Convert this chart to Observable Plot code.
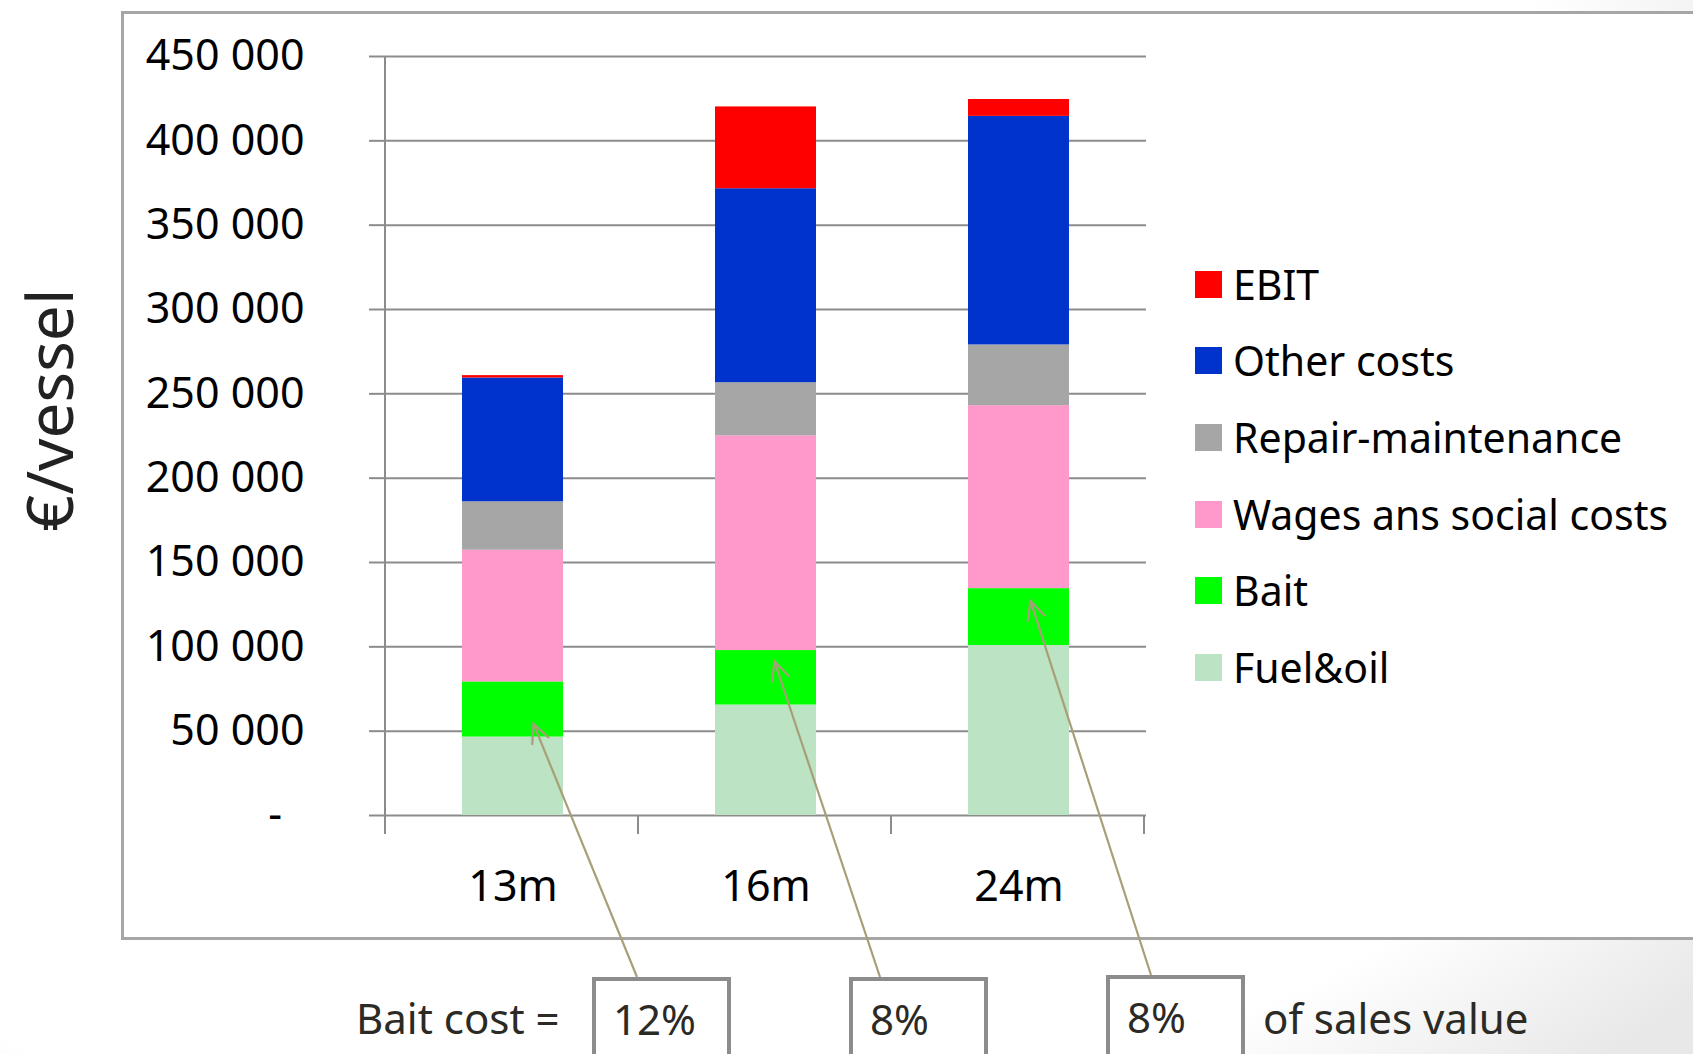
<!DOCTYPE html>
<html><head><meta charset="utf-8">
<script src="https://cdn.jsdelivr.net/npm/d3@7"></script>
<script src="https://cdn.jsdelivr.net/npm/@observablehq/plot@0.6"></script>
<style>
html,body{margin:0;padding:0;}
body{width:1693px;height:1054px;overflow:hidden;font-family:"Noto Sans",sans-serif;}
#page{position:relative;width:1693px;height:1054px;overflow:hidden;
  background:radial-gradient(ellipse 85% 85% at 35% 40%, #ffffff 80%, #e8e8e8 100%);}
#frame{position:absolute;left:121px;top:11px;width:1700px;height:923px;border:3px solid #a6a6a6;background:#fff;}
#chart{position:absolute;left:0;top:0;}
#ytitle{position:absolute;left:49px;top:410px;transform:translate(-50%,-50%) rotate(-90deg);
  font-size:64px;color:#222;white-space:nowrap;line-height:1;}
#legend{position:absolute;left:1195px;top:246px;}
.lrow{position:relative;height:76.6px;display:flex;align-items:center;white-space:nowrap;}
.lsw{width:27px;height:27px;margin-right:11px;flex:none;}
.ltx{font-size:41px;color:#000;line-height:1;}
.note{position:absolute;font-size:42px;color:#2b2a25;white-space:nowrap;line-height:1;transform:translateY(-50%);}
.box{position:absolute;width:131px;height:90px;border:4px solid #8c8c8c;background:#fff;box-sizing:content-box;}
.box span{position:absolute;left:17px;top:38px;font-size:42px;color:#2b2a25;line-height:1;transform:translateY(-50%);}
#arrows{position:absolute;left:0;top:0;}
</style></head><body>
<div id="page">
  <div id="frame"></div>
  <div id="chart"></div>
  <div id="ytitle">€/vessel</div>
  <div id="legend"></div>
  <div id="notes"></div>
  <svg id="arrows" width="1693" height="1054"></svg>
</div>
<script>
// ---- data ----
const sizes = ["13m", "16m", "24m"];
const costs = ["Fuel&oil", "Bait", "Wages ans social costs", "Repair-maintenance", "Other costs", "EBIT"];
const colors = ["#bce3c3", "#00ff00", "#ff99cc", "#a6a6a6", "#0033cc", "#ff0000"];
const fuel   = [46500, 65500, 100800];
const bait   = [32700, 32300, 33700];
const wages  = [78100, 127300, 108500];
const repair = [28700, 31500, 36000];
const other  = [73400, 115000, 135500];
const ebit   = [1400, 48500, 10000];
const yTicks = [0, 50000, 100000, 150000, 200000, 250000, 300000, 350000, 400000, 450000];
const baitShare = ["12%", "8%", "8%"];
const arrowTargets = [54000, 91000, 127000];   // value where each arrow points
const noteLeft = "Bait cost =";
const noteRight = "of sales value";

// ---- layout ----
const boxLeft = [592, 849, 1106];
const boxTop = [977, 977, 975];
const arrowStartX = [637, 880, 1151];
const arrowTipDx = [21, 9, 12];

const series = [fuel, bait, wages, repair, other, ebit];
const rows = [];
sizes.forEach((s, i) => costs.forEach((c, j) => rows.push({size: s, cost: c, value: series[j][i]})));

const fmt = d => d === 0 ? "-\u00a0\u00a0" : d3.format(",")(d).replace(/,/g, " ");

const plot = Plot.plot({
  width: 1693, height: 950,
  marginTop: 56, marginBottom: 135, marginLeft: 385, marginRight: 547,
  style: {background: "transparent", fontFamily: "'Noto Sans', sans-serif", fontSize: "43px", color: "#000", overflow: "visible"},
  x: {domain: sizes, paddingInner: 0.6, paddingOuter: 0.3, label: null},
  y: {domain: [0, 450000], label: null},
  color: {domain: costs, range: colors},
  marks: [
    Plot.gridY(yTicks, {stroke: "#8c8c8c", strokeOpacity: 1, strokeWidth: 2}),
    Plot.barY(rows, {x: "size", y: "value", fill: "cost"}),
    Plot.axisY(yTicks, {tickSize: 16, tickPadding: 65, stroke: "#8c8c8c", strokeWidth: 2, fill: "#000", fontSize: 43, tickFormat: fmt, label: null}),
    Plot.axisX({tickSize: 0, tickPadding: 55, fontSize: 43, fill: "#000", label: null})
  ]
});
document.getElementById("chart").appendChild(plot);

// axis line and category boundary ticks from Plot's scales
const xs = plot.scale("x"), ys = plot.scale("y");
const y0 = ys.apply(0), yTop = ys.apply(450000);
const g = d3.select(plot).append("g").attr("stroke", "#8c8c8c").attr("stroke-width", 2);
g.append("line").attr("x1", xs.range[0]).attr("x2", xs.range[0]).attr("y1", yTop).attr("y2", y0 + 19);
for (let i = 1; i <= sizes.length; i++) {
  const x = xs.range[0] + i * xs.step;
  g.append("line").attr("x1", x).attr("x2", x).attr("y1", y0).attr("y2", y0 + 19);
}

// legend (top to bottom = reverse stack order)
const leg = d3.select("#legend");
costs.slice().reverse().forEach(c => {
  const r = leg.append("div").attr("class", "lrow");
  r.append("div").attr("class", "lsw").style("background", colors[costs.indexOf(c)]);
  r.append("div").attr("class", "ltx").text(c);
});

// bottom notes
const notes = d3.select("#notes");
notes.append("div").attr("class", "note").style("left", "356px").style("top", "1018px").text(noteLeft);
baitShare.forEach((t, i) => {
  notes.append("div").attr("class", "box").style("left", boxLeft[i] + "px").style("top", boxTop[i] + "px")
    .append("span").text(t);
});
notes.append("div").attr("class", "note").style("left", "1263px").style("top", "1018px").text(noteRight);

// arrows
const as = d3.select("#arrows").append("g").attr("stroke", "#a89f78").attr("stroke-width", 2.2).attr("fill", "none");
sizes.forEach((s, i) => {
  const tx = xs.apply(s) + xs.bandwidth / 2 + arrowTipDx[i];
  const ty = ys.apply(arrowTargets[i]);
  const sx = arrowStartX[i], sy = boxTop[i];
  as.append("line").attr("x1", sx).attr("y1", sy).attr("x2", tx).attr("y2", ty);
  const ang = Math.atan2(sy - ty, sx - tx), L = 21, a = 0.45;
  as.append("path").attr("d",
    `M${tx + L * Math.cos(ang - a)},${ty + L * Math.sin(ang - a)}L${tx},${ty}L${tx + L * Math.cos(ang + a)},${ty + L * Math.sin(ang + a)}`);
});
</script>
</body></html>
